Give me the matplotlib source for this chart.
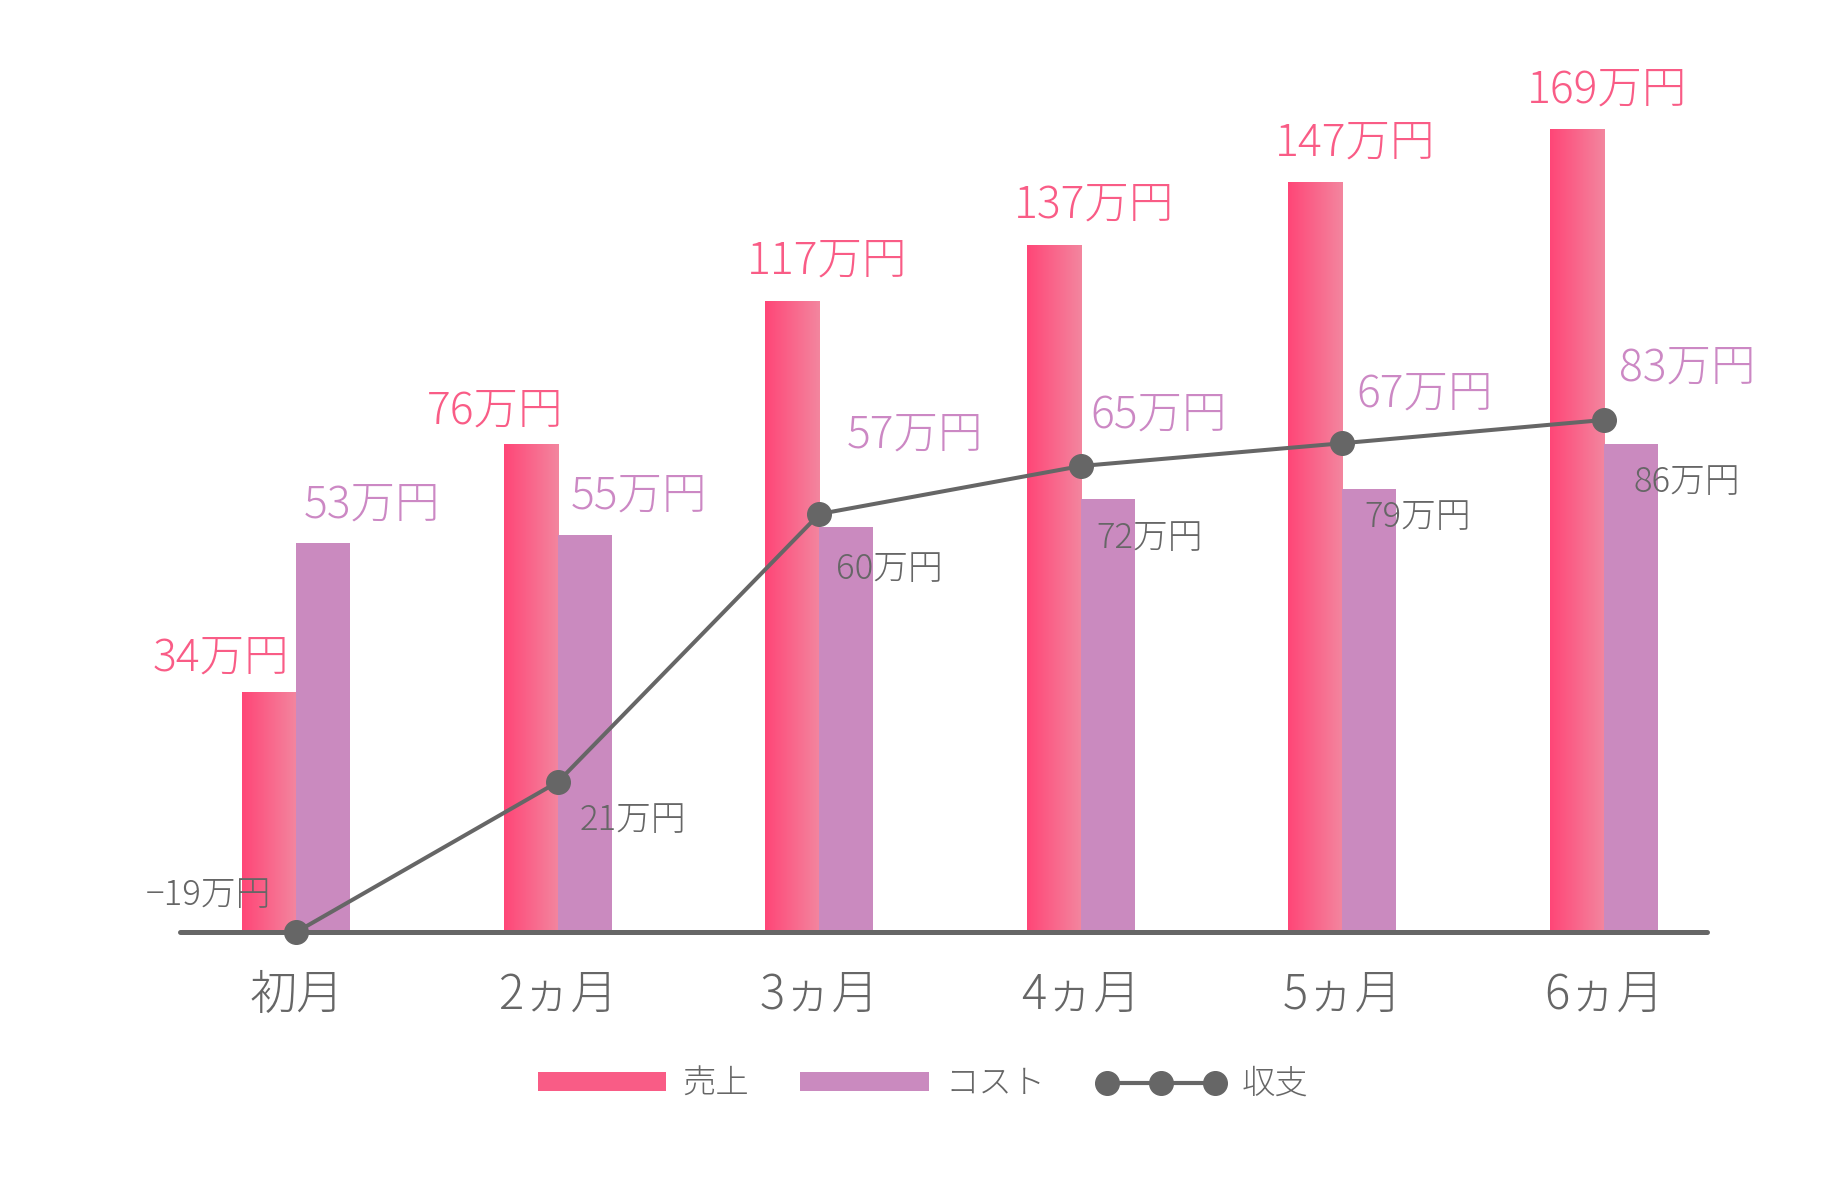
import numpy as np
import matplotlib
matplotlib.use('Agg')
import matplotlib.pyplot as plt
from matplotlib.colors import LinearSegmentedColormap
from matplotlib.patches import Patch
from matplotlib.lines import Line2D

plt.rcParams['font.family'] = ['Noto Sans CJK JP', 'DejaVu Sans']
plt.rcParams['font.weight'] = 'light'

# Data (values in 万円)
months = ['初月', '2ヵ月', '3ヵ月', '4ヵ月', '5ヵ月', '6ヵ月']
sales = [34, 76, 117, 137, 147, 169]
cost = [53, 55, 57, 65, 67, 83]
balance = [-19, 21, 60, 72, 79, 86]

# heights as drawn in the picture (the chart is not to scale)
sales_drawn = [50.5, 102.7, 132.8, 144.6, 157.7, 169.0]
cost_drawn = [81.9, 83.6, 85.3, 91.2, 93.3, 102.7]
balance_drawn = [0.0, 31.6, 88.0, 98.1, 102.9, 107.8]

# label offsets in pixels (dx from bar/point centre, dy from top)
sales_off = [(-48, 22), (-36, 21), (35, 28), (40, 28), (40, 27), (30, 27)]
cost_off = [(49, 25), (54, 26), (69, 79), (51, 71), (55, 82), (56, 64)]
bal_off = [(-88, 27), (75, -48), (70, -65), (69, -82), (75, -84), (83, -72)]

PINK = '#F95C86'
PURPLE = '#CA8ABF'
PURPLE_TXT = '#CC88C4'
GRAY = '#666666'

fig = plt.figure(figsize=(18.46, 11.94), dpi=100)
ax = fig.add_axes([180 / 1846, 262 / 1194, 1527 / 1846, 902.5 / 1194])

x = np.arange(len(months))
w = 0.2065
grad_cmap = LinearSegmentedColormap.from_list('pk', ['#FF4677', '#F3869F'])
grad = np.linspace(0, 1, 256).reshape(1, -1)

for xi, h in zip(x, sales_drawn):
    ax.imshow(grad, extent=[xi - w, xi, 0, h], cmap=grad_cmap, aspect='auto',
              interpolation='bicubic', zorder=2)
ax.bar(x + w / 2, cost_drawn, width=w, color=PURPLE, zorder=2)

ax.plot(x, balance_drawn, color=GRAY, lw=2.9, marker='o', ms=17,
        zorder=4, clip_on=False)

def px(v):
    return v * 0.72

for i in range(len(x)):
    ax.annotate(f'{sales[i]}万円', (x[i] - w / 2, sales_drawn[i]),
                xytext=(px(sales_off[i][0]), px(sales_off[i][1])),
                textcoords='offset points', ha='center', va='baseline',
                fontsize=32, color=PINK, zorder=5)
    ax.annotate(f'{cost[i]}万円', (x[i] + w / 2, cost_drawn[i]),
                xytext=(px(cost_off[i][0]), px(cost_off[i][1])),
                textcoords='offset points', ha='center', va='baseline',
                fontsize=32, color=PURPLE_TXT, zorder=5)
    lab = f'{balance[i]}万円'.replace('-', '−')
    ax.annotate(lab, (x[i], balance_drawn[i]),
                xytext=(px(bal_off[i][0]), px(bal_off[i][1])),
                textcoords='offset points', ha='center', va='baseline',
                fontsize=25, color=GRAY, zorder=5)

ax.set_xlim(-0.445, 5.394)
ax.set_ylim(0, 190)
ax.set_xticks(x, months, fontsize=34, color=GRAY)
ax.tick_params(axis='x', length=0, pad=28)
ax.set_yticks([])
for s in ['top', 'left', 'right']:
    ax.spines[s].set_visible(False)
ax.spines['bottom'].set_color(GRAY)
ax.spines['bottom'].set_linewidth(3.6)
ax.spines['bottom'].set_capstyle('round')
ax.spines['bottom'].set_zorder(3)
ax.patch.set_alpha(0)

handles = [Patch(facecolor=PINK), Patch(facecolor=PURPLE),
           Line2D([], [], color=GRAY, lw=3, marker='o', ms=17)]
fig.legend(handles, ['売上', 'コスト', '収支'], loc='center',
           bbox_to_anchor=(0.5, 0.092), ncol=3, frameon=False, fontsize=24,
           handlelength=3.85, handleheight=0.51, handletextpad=0.5,
           columnspacing=1.53, numpoints=3, labelcolor=GRAY)

fig.savefig('out.png', dpi=100, facecolor='white')
